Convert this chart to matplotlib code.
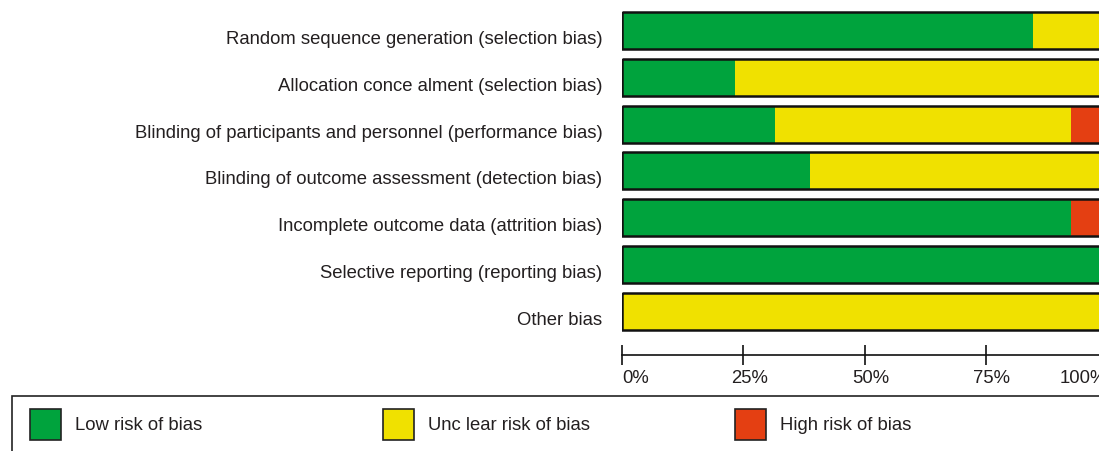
import matplotlib.pyplot as plt
from matplotlib.patches import Rectangle
from matplotlib.transforms import ScaledTranslation

plt.rcParams['font.family'] = ['Liberation Sans', 'DejaVu Sans']

domains = [
    "Random sequence generation (selection bias)",
    "Allocation conce alment (selection bias)",
    "Blinding of participants and personnel (performance bias)",
    "Blinding of outcome assessment (detection bias)",
    "Incomplete outcome data (attrition bias)",
    "Selective reporting (reporting bias)",
    "Other bias",
]
low = [84.8, 23.3, 31.5, 38.8, 92.5, 100.0, 0.0]
unclear = [15.2, 76.7, 61.0, 61.2, 0.0, 0.0, 100.0]
high = [0.0, 0.0, 7.5, 0.0, 7.5, 0.0, 0.0]

legend_labels = ["Low risk of bias", "Unc lear risk of bias", "High risk of bias"]
colors = ["#00a33d", "#f0e100", "#e43f12"]
ticks = [0, 25, 50, 75, 100]

W, H = 1099, 451
fs = 13.3
txt = "#231f20"
fig = plt.figure(figsize=(W / 100, H / 100), dpi=100)

# axes placed in pixel terms: x 622..1107, y 0..355 from top
ax = fig.add_axes([622 / W, (H - 355) / H, 485 / W, 355 / H])

y = list(range(len(domains)))
h = 0.79
left_unc = [l for l in low]
left_high = [l + u for l, u in zip(low, unclear)]
ax.barh(y, low, height=h, color=colors[0], linewidth=0)
ax.barh(y, unclear, left=left_unc, height=h, color=colors[1], linewidth=0)
ax.barh(y, high, left=left_high, height=h, color=colors[2], linewidth=0)
totals = [l + u + hi for l, u, hi in zip(low, unclear, high)]
ax.barh(y, totals, height=h, fill=False, edgecolor="#111111", linewidth=1.8)

ax.set_xlim(0, 100)
ax.set_ylim(6 + (355 - 311.5) / 46.8, -30.5 / 46.8)
ax.set_yticks(y)
ax.set_yticklabels(domains, fontsize=fs, color=txt)
ax.tick_params(axis='y', length=0, pad=14)
down = ScaledTranslation(0, -7 / 100, fig.dpi_scale_trans)
for lab in ax.get_yticklabels():
    lab.set_transform(lab.get_transform() + down)

ax.set_xticks(ticks)
ax.set_xticklabels([f"{t}%" for t in ticks], fontsize=fs, color=txt)
ax.tick_params(axis='x', direction='inout', length=15, width=1.2, pad=3, color="#111111")
xlabs = ax.get_xticklabels()
xlabs[0].set_ha('left')
xlabs[-1].set_ha('right')
shift = ScaledTranslation(6 / 100, 0, fig.dpi_scale_trans)
for lab in xlabs[1:-1]:
    lab.set_transform(lab.get_transform() + shift)
for s in ['top', 'right', 'left']:
    ax.spines[s].set_visible(False)
ax.spines['bottom'].set_linewidth(1.2)
ax.spines['bottom'].set_color("#111111")

# legend box
fig.patches.append(Rectangle((12 / W, -0.1), 1.2, (H - 396) / H + 0.1,
                             transform=fig.transFigure, fill=False,
                             edgecolor="#222222", linewidth=1.2))
patch_x = [30, 383, 735]
for px, lab, c in zip(patch_x, legend_labels, colors):
    fig.patches.append(Rectangle((px / W, (H - 440) / H), 31 / W, 31 / H,
                                 transform=fig.transFigure, facecolor=c,
                                 edgecolor="#222222", linewidth=1.2))
    fig.text((px + 45) / W, (H - 425) / H, lab, fontsize=fs,
             color=txt, va='center', ha='left')

fig.savefig("out.png", dpi=100)
